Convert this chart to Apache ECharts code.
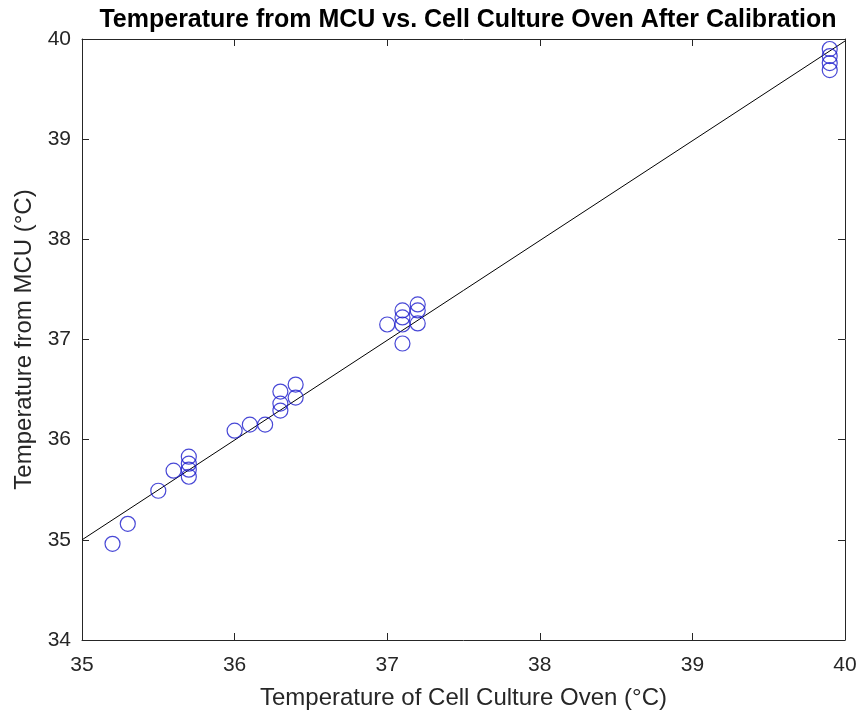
<!DOCTYPE html>
<html>
<head>
<meta charset="utf-8">
<script src="https://cdn.jsdelivr.net/npm/echarts@6/dist/echarts.min.js"></script>
<style>html,body{margin:0;padding:0;background:#fff;}#c{width:859px;height:718px;}</style>
</head>
<body>
<div id="c"></div>
<script>
const ovenTemp = [35.2, 35.3, 35.5, 35.6, 35.7, 35.7, 35.7, 35.7, 36.0, 36.1, 36.2, 36.3, 36.3, 36.3, 36.4, 36.4, 37.0, 37.1, 37.1, 37.1, 37.1, 37.2, 37.2, 37.2, 39.9, 39.9, 39.9, 39.9];
const mcuTemp  = [34.96, 35.16, 35.49, 35.69, 35.63, 35.70, 35.76, 35.83, 36.09, 36.15, 36.15, 36.29, 36.36, 36.48, 36.42, 36.55, 37.15, 36.96, 37.15, 37.22, 37.29, 37.16, 37.29, 37.35, 39.69, 39.76, 39.83, 39.90];
const fitX = [35, 40];
const fitY = [35.0, 39.98];
const xTicks = [35, 36, 37, 38, 39, 40];
const yTicks = [34, 35, 36, 37, 38, 39, 40];

const chart = echarts.init(document.getElementById('c'), null, {renderer: 'canvas'});
const font = 'Liberation Sans, Arial, sans-serif';
const axCol = '#262626';
const baseAxis = {
  axisLine: {show: true, onZero: false, lineStyle: {color: axCol, width: 1}},
  axisTick: {show: true, inside: true, length: 7, lineStyle: {color: axCol}},
  splitLine: {show: false}
};
chart.setOption({
  animation: false,
  backgroundColor: '#ffffff',
  title: {
    text: 'Temperature from MCU vs. Cell Culture Oven After Calibration',
    left: 463, top: 3, textAlign: 'center',
    textStyle: {fontFamily: font, fontWeight: 'bold', fontSize: 25, color: '#000'}
  },
  grid: {left: 82, right: 14, top: 39, bottom: 78, containLabel: false, outerBoundsMode: 'none'},
  xAxis: [
    Object.assign({}, baseAxis, {
      type: 'value', min: xTicks[0], max: xTicks[xTicks.length-1], interval: 1, position: 'bottom',
      name: 'Temperature of Cell Culture Oven (°C)', nameLocation: 'middle', nameGap: 46,
      nameTextStyle: {fontFamily: font, fontSize: 24, color: axCol},
      axisLabel: {fontFamily: font, fontSize: 21, color: axCol, margin: 15}
    }),
    Object.assign({}, baseAxis, {
      type: 'value', min: xTicks[0], max: xTicks[xTicks.length-1], interval: 1, position: 'top',
      axisLabel: {show: false}
    })
  ],
  yAxis: [
    Object.assign({}, baseAxis, {
      type: 'value', min: yTicks[0], max: yTicks[yTicks.length-1], interval: 1, position: 'left',
      name: 'Temperature from MCU (°C)', nameLocation: 'middle', nameGap: 46, nameRotate: 90,
      nameTextStyle: {fontFamily: font, fontSize: 24, color: axCol},
      axisLabel: {fontFamily: font, fontSize: 21, color: axCol, margin: 11}
    }),
    Object.assign({}, baseAxis, {
      type: 'value', min: yTicks[0], max: yTicks[yTicks.length-1], interval: 1, position: 'right',
      axisLabel: {show: false}
    })
  ],
  series: [
    {
      type: 'line', data: fitX.map((x, i) => [x, fitY[i]]),
      showSymbol: false, symbol: 'none', lineStyle: {color: '#000', width: 1}, z: 2
    },
    {
      type: 'scatter', data: ovenTemp.map((x, i) => [x, mcuTemp[i]]),
      symbol: 'circle', symbolSize: 15,
      itemStyle: {color: 'rgba(0,0,0,0)', borderColor: '#1a1acc', borderWidth: 1.2}, z: 3
    }
  ]
});
</script>
</body>
</html>
